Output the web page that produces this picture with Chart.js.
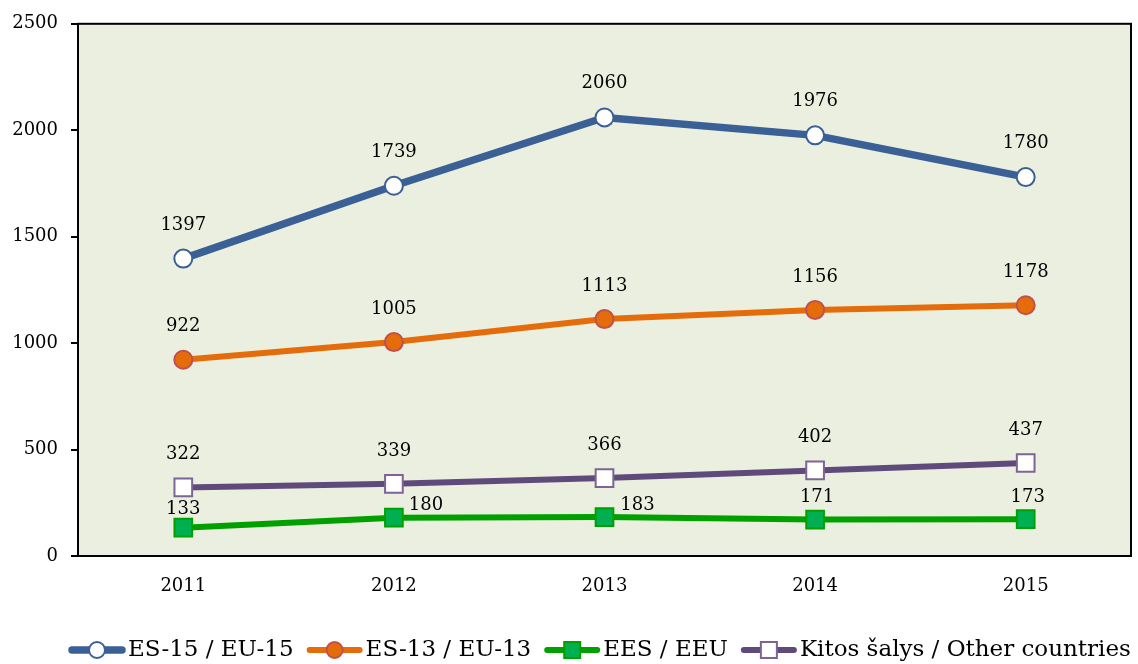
<!DOCTYPE html>
<html>
<head>
<meta charset="utf-8">
<script src="https://cdn.jsdelivr.net/npm/chart.js@4/dist/chart.umd.min.js"></script>
<style>
  html, body { margin: 0; padding: 0; background: #fff; }
  #wrap { width: 1138px; height: 664px; }
</style>
</head>
<body>
<div id="wrap"><canvas id="c" width="1138" height="664"></canvas></div>
<script>
// data
const years = ['2011', '2012', '2013', '2014', '2015'];
const eu15 = [1397, 1739, 2060, 1976, 1780];
const eu13 = [922, 1005, 1113, 1156, 1178];
const eeu = [133, 180, 183, 171, 173];
const other = [322, 339, 366, 402, 437];
const seriesNames = ['ES-15 / EU-15', 'ES-13 / EU-13', 'EES / EEU', 'Kitos šalys / Other countries'];
const yTicks = [0, 500, 1000, 1500, 2000, 2500];

const FONT = '"DejaVu Serif", "Liberation Serif", serif';

// label offsets (px) per series, green labels wander a bit
const labelShift = [
  { dx: [0, 0, 0, 0, 0], dy: [-33, -33, -34, -34, -34] },
  { dx: [0, 0, 0, 0, 0], dy: [-33, -33, -33, -33, -33] },
  { dx: [0, 32, 33, 2, 2], dy: [-18, -12, -12, -22, -22] },
  { dx: [0, 0, 0, 0, 0], dy: [-33, -33, -33, -33, -33] }
];

const plotBg = {
  id: 'plotBg',
  beforeDraw(chart) {
    const { ctx, chartArea: a } = chart;
    ctx.save();
    ctx.fillStyle = '#EBEFDF';
    ctx.fillRect(a.left, a.top, a.right - a.left, a.bottom - a.top);
    ctx.restore();
  },
  afterDatasetsDraw(chart) {
    const { ctx, chartArea: a } = chart;
    ctx.save();
    ctx.strokeStyle = '#000';
    ctx.lineWidth = 2;
    ctx.strokeRect(a.left, a.top, a.right - a.left, a.bottom - a.top);
    ctx.restore();
  }
};

const valueLabels = {
  id: 'valueLabels',
  afterDatasetsDraw(chart) {
    const ctx = chart.ctx;
    ctx.save();
    ctx.font = '18px ' + FONT;
    ctx.fillStyle = '#000';
    ctx.textAlign = 'center';
    ctx.textBaseline = 'middle';
    chart.data.datasets.forEach((ds, i) => {
      const meta = chart.getDatasetMeta(i);
      meta.data.forEach((pt, j) => {
        const s = labelShift[i];
        ctx.fillText(String(ds.data[j]), pt.x + s.dx[j], pt.y + s.dy[j]);
      });
    });
    ctx.restore();
  }
};

// legend with line + marker samples, drawn at the bottom
const lineLegend = {
  id: 'lineLegend',
  afterDraw(chart) {
    const ctx = chart.ctx;
    ctx.save();
    ctx.font = '23px ' + FONT;
    ctx.textBaseline = 'middle';
    const y = 650;
    const sampleW = 58, gap = 2, itemGap = 12;
    let x = 68;
    chart.data.datasets.forEach(ds => {
      ctx.strokeStyle = ds.borderColor;
      ctx.lineWidth = ds.borderWidth;
      ctx.lineCap = 'round';
      ctx.beginPath();
      ctx.moveTo(x + 4, y);
      ctx.lineTo(x + sampleW - 4, y);
      ctx.stroke();
      const cx = x + sampleW / 2;
      ctx.fillStyle = ds.pointBackgroundColor;
      ctx.strokeStyle = ds.pointBorderColor;
      ctx.lineWidth = 2;
      ctx.beginPath();
      if (ds.pointStyle === 'rect') {
        ctx.rect(cx - 8, y - 8, 16, 16);
      } else {
        ctx.arc(cx, y, 8, 0, Math.PI * 2);
      }
      ctx.fill();
      ctx.stroke();
      ctx.fillStyle = '#000';
      ctx.fillText(ds.label, x + sampleW + gap, y);
      x += sampleW + gap + ctx.measureText(ds.label).width + itemGap;
    });
    ctx.restore();
  }
};

new Chart(document.getElementById('c'), {
  type: 'line',
  data: {
    labels: years,
    datasets: [
      { label: seriesNames[0], data: eu15, borderColor: '#3A6095', borderWidth: 7.5,
        pointStyle: 'circle', pointRadius: 9, pointBackgroundColor: '#fff', pointBorderColor: '#3A6095', pointBorderWidth: 2 },
      { label: seriesNames[1], data: eu13, borderColor: '#E46C0A', borderWidth: 6,
        pointStyle: 'circle', pointRadius: 9, pointBackgroundColor: '#E46C0A', pointBorderColor: '#C0504D', pointBorderWidth: 2 },
      { label: seriesNames[2], data: eeu, borderColor: '#00A000', borderWidth: 6,
        pointStyle: 'rect', pointRadius: 12.5, pointBackgroundColor: '#00B050', pointBorderColor: '#00A000', pointBorderWidth: 2 },
      { label: seriesNames[3], data: other, borderColor: '#604A7B', borderWidth: 6,
        pointStyle: 'rect', pointRadius: 12.5, pointBackgroundColor: '#fff', pointBorderColor: '#7D6495', pointBorderWidth: 2 }
    ]
  },
  options: {
    responsive: false,
    animation: false,
    layout: { autoPadding: false, padding: { left: 0, top: 22, right: 7, bottom: 68 } },
    plugins: { legend: { display: false }, tooltip: { enabled: false } },
    scales: {
      x: {
        offset: true,
        grid: { display: false },
        border: { display: false },
        ticks: { color: '#000', font: { family: FONT, size: 18 }, padding: 12 },
        afterFit(scale) { scale.height = 40; scale.paddingLeft = 0; scale.paddingRight = 0; }
      },
      y: {
        min: 0, max: 2500,
        afterBuildTicks(scale) { scale.ticks = yTicks.map(v => ({ value: v })); },
        grid: { drawOnChartArea: false, drawTicks: true, tickLength: 7, color: '#000', lineWidth: 2 },
        border: { display: true, color: '#000', width: 2 },
        ticks: { color: '#000', font: { family: FONT, size: 18 }, padding: 13, callback: v => String(v) },
        afterFit(scale) { scale.width = 78; }
      }
    }
  },
  plugins: [plotBg, valueLabels, lineLegend]
});
</script>
</body>
</html>
